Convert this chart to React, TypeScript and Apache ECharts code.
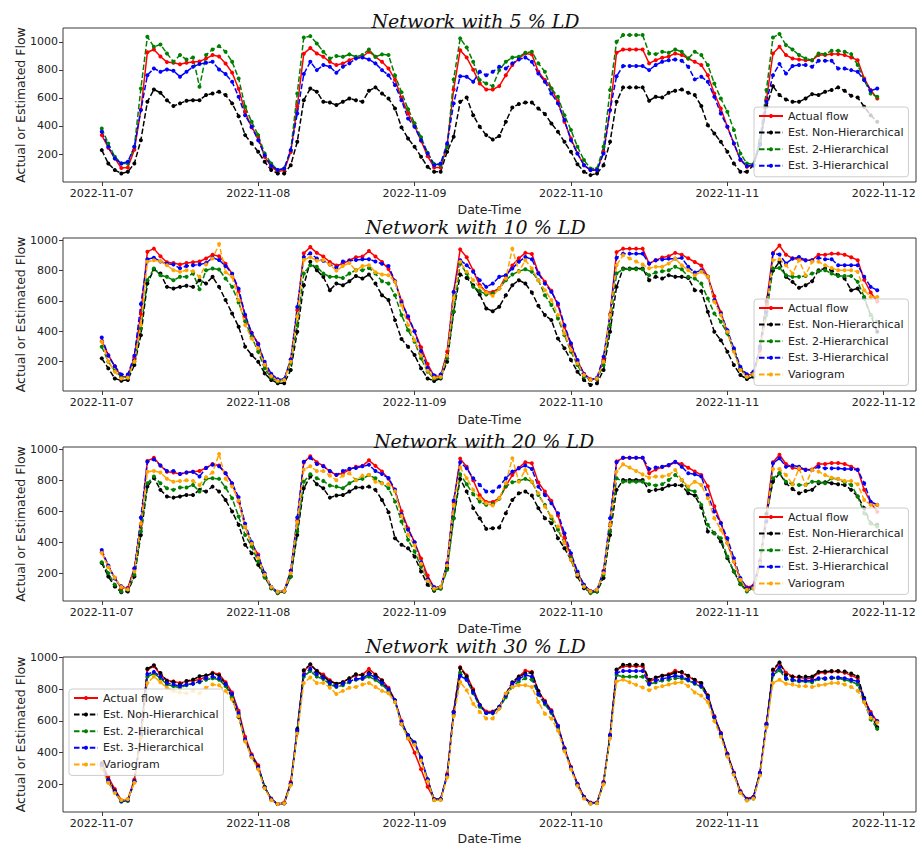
import React, { useEffect, useRef } from "react";
import * as echarts from "echarts";

// ---------- data ----------
const DATE_LABELS = ["2022-11-07", "2022-11-08", "2022-11-09", "2022-11-10", "2022-11-11", "2022-11-12"];
const DAY_TICKS = [0, 24, 48, 72, 96, 120]; // hours since 2022-11-07 00:00
const Y_TICKS = [200, 400, 600, 800, 1000];
const SERIES_NAMES = ["Actual flow", "Est. Non-Hierarchical", "Est. 2-Hierarchical", "Est. 3-Hierarchical", "Variogram"];
const PANEL_TITLES = ["Network with 5 % LD", "Network with 10 % LD", "Network with 20 % LD", "Network with 30 % LD"];

// hourly values, hour 0 = 2022-11-07 00:00
const ACTUAL_FLOW = [
  335, 245, 170, 100, 105, 230, 515, 925, 945, 895, 855, 850, 840, 850, 855, 860, 880, 905, 895, 845, 780, 665, 500, 390,
  320, 180, 110, 75, 85, 215, 540, 915, 955, 917, 893, 857, 834, 845, 869, 888, 893, 929, 893, 857, 810, 730, 600, 490,
  400, 295, 185, 105, 105, 265, 660, 940, 888, 800, 703, 660, 660, 684, 762, 834, 881, 917, 910, 786, 727, 667, 572, 430,
  311, 204, 121, 85, 85, 216, 513, 922, 945, 945, 945, 945, 846, 869, 886, 895, 917, 905, 881, 857, 834, 762, 632, 525,
  394, 275, 157, 109, 121, 275, 584, 917, 965, 905, 881, 874, 869, 869, 905, 905, 912, 912, 905, 888, 869, 739, 656, 596,
];

// ---- 5 % LD ----
const NON_HIER_5 = [
  228, 133, 86, 62, 74, 133, 299, 572, 660, 637, 584, 542, 561, 580, 584, 584, 620, 632, 644, 620, 561, 470, 335, 276,
  216, 145, 86, 62, 62, 121, 287, 584, 667, 644, 572, 567, 549, 572, 596, 584, 572, 651, 675, 632, 596, 525, 390, 311,
  252, 181, 109, 74, 74, 216, 323, 572, 603, 477, 394, 335, 304, 328, 430, 532, 556, 567, 567, 525, 485, 418, 359, 287,
  216, 128, 74, 50, 62, 121, 287, 572, 675, 675, 675, 675, 580, 608, 603, 637, 651, 660, 637, 620, 542, 406, 347, 287,
  216, 133, 74, 74, 121, 275, 537, 684, 620, 589, 572, 572, 596, 627, 620, 644, 656, 675, 651, 615, 603, 537, 477, 430,
];
const HIER2_5 = [
  382, 275, 181, 133, 133, 252, 667, 1035, 964, 981, 917, 857, 905, 874, 888, 679, 905, 945, 969, 929, 857, 739, 537, 430,
  335, 204, 133, 86, 97, 228, 632, 1031, 1040, 988, 929, 881, 898, 893, 910, 893, 905, 945, 893, 910, 905, 760, 640, 520,
  420, 320, 210, 130, 120, 250, 732, 1024, 960, 857, 727, 703, 684, 798, 857, 888, 893, 922, 929, 846, 786, 667, 608, 477,
  371, 252, 157, 97, 97, 252, 656, 1000, 1048, 1048, 1048, 1048, 917, 912, 929, 922, 945, 929, 881, 929, 905, 834, 703, 596,
  501, 371, 204, 133, 128, 299, 656, 1031, 1055, 976, 945, 905, 881, 869, 917, 912, 936, 936, 929, 912, 834, 727, 632, 608,
];
const HIER3_5 = [
  359, 252, 169, 133, 145, 252, 513, 762, 810, 786, 803, 793, 751, 786, 822, 841, 850, 857, 803, 770, 715, 608, 477, 394,
  299, 192, 116, 86, 97, 228, 489, 770, 857, 798, 834, 822, 779, 822, 846, 881, 888, 874, 846, 798, 762, 691, 584, 454,
  394, 299, 204, 121, 133, 276, 561, 755, 751, 715, 786, 762, 786, 822, 810, 846, 874, 888, 857, 774, 715, 632, 561, 442,
  299, 204, 121, 86, 86, 204, 513, 755, 827, 827, 827, 827, 798, 834, 857, 869, 874, 865, 822, 732, 751, 715, 608, 489,
  394, 276, 162, 114, 121, 264, 572, 762, 841, 774, 827, 834, 834, 822, 865, 865, 865, 810, 810, 798, 786, 727, 651, 667,
];

// ---- 10 % LD ----
const NON_HIER_10 = [
  222, 156, 90, 75, 80, 178, 375, 715, 809, 781, 693, 682, 693, 700, 693, 737, 715, 759, 693, 606, 518, 430, 299, 244,
  200, 123, 80, 58, 58, 145, 397, 704, 858, 803, 759, 671, 715, 704, 730, 765, 748, 774, 715, 638, 606, 474, 349, 299,
  244, 156, 90, 73, 90, 200, 529, 774, 752, 704, 643, 551, 533, 562, 638, 704, 737, 715, 656, 568, 507, 474, 353, 288,
  211, 134, 80, 47, 58, 145, 397, 693, 814, 814, 814, 814, 737, 759, 748, 770, 759, 759, 752, 671, 665, 529, 397, 342,
  266, 178, 112, 86, 101, 300, 600, 800, 858, 759, 726, 687, 704, 730, 803, 814, 803, 770, 748, 671, 682, 616, 507, 397,
];
const HIER2_10 = [
  299, 200, 139, 101, 95, 200, 419, 737, 814, 770, 759, 737, 759, 759, 781, 678, 803, 814, 807, 748, 693, 590, 467, 364,
  266, 156, 95, 69, 80, 189, 441, 781, 836, 825, 781, 759, 759, 752, 781, 803, 803, 818, 781, 730, 715, 638, 507, 408,
  332, 222, 134, 90, 95, 222, 529, 847, 781, 693, 665, 643, 649, 682, 737, 774, 796, 809, 792, 737, 638, 573, 485, 375,
  266, 178, 101, 80, 86, 178, 441, 781, 809, 809, 809, 809, 770, 787, 796, 803, 825, 809, 759, 748, 715, 616, 518, 463,
  386, 277, 152, 101, 112, 288, 507, 814, 818, 770, 759, 759, 765, 781, 796, 803, 781, 765, 765, 765, 726, 627, 507, 463,
];
const HIER3_10 = [
  360, 240, 170, 115, 115, 240, 580, 875, 885, 860, 845, 840, 815, 830, 835, 840, 850, 885, 870, 830, 780, 680, 510, 390,
  315, 200, 120, 85, 85, 215, 560, 890, 915, 880, 865, 840, 820, 860, 865, 870, 875, 875, 860, 845, 830, 730, 590, 500,
  400, 270, 160, 110, 115, 240, 660, 869, 836, 792, 737, 693, 715, 759, 770, 814, 858, 890, 875, 781, 715, 660, 584, 441,
  321, 211, 117, 80, 95, 233, 507, 884, 912, 912, 912, 912, 847, 869, 873, 879, 879, 884, 825, 787, 803, 759, 606, 518,
  408, 288, 167, 117, 134, 288, 529, 912, 906, 847, 879, 890, 869, 869, 884, 875, 875, 836, 836, 836, 836, 759, 693, 671,
];
const VARIOGRAM_10 = [
  332, 200, 134, 90, 95, 200, 441, 858, 869, 862, 836, 803, 792, 803, 796, 759, 840, 880, 975, 790, 760, 606, 441, 353,
  288, 180, 105, 75, 80, 200, 500, 870, 890, 865, 870, 840, 800, 830, 850, 800, 830, 835, 790, 775, 770, 726, 573, 441,
  342, 240, 140, 95, 100, 240, 620, 858, 792, 737, 693, 656, 634, 682, 748, 945, 792, 869, 814, 737, 671, 606, 507, 386,
  277, 189, 112, 80, 90, 200, 507, 836, 901, 880, 860, 840, 815, 825, 825, 847, 879, 836, 803, 770, 792, 759, 595, 507,
  397, 266, 145, 101, 117, 244, 550, 869, 875, 836, 781, 869, 770, 858, 858, 836, 818, 803, 803, 803, 792, 671, 627, 627,
];

// ---- 20 % LD ----
const NON_HIER_20 = [
  265, 178, 114, 77, 82, 178, 447, 759, 817, 738, 695, 688, 695, 705, 705, 738, 727, 759, 727, 673, 598, 512, 383, 329,
  254, 178, 103, 71, 82, 178, 447, 748, 824, 774, 748, 688, 701, 705, 727, 753, 753, 759, 738, 673, 594, 426, 383, 361,
  308, 211, 125, 86, 103, 232, 555, 809, 727, 620, 555, 486, 490, 495, 587, 673, 716, 727, 701, 620, 555, 523, 426, 361,
  286, 178, 103, 77, 82, 168, 447, 738, 802, 802, 802, 802, 731, 738, 744, 766, 770, 766, 716, 701, 624, 469, 458, 404,
  297, 211, 129, 93, 103, 260, 580, 791, 845, 781, 744, 716, 731, 738, 781, 787, 781, 774, 770, 738, 695, 620, 523, 512,
];
const HIER2_20 = [
  271, 200, 125, 82, 93, 189, 469, 781, 824, 781, 748, 738, 753, 753, 770, 727, 809, 813, 809, 753, 684, 566, 447, 372,
  275, 172, 103, 71, 82, 178, 469, 791, 839, 813, 796, 766, 759, 748, 781, 802, 809, 834, 813, 781, 748, 662, 533, 415,
  340, 243, 157, 93, 99, 222, 555, 839, 774, 710, 662, 641, 645, 680, 759, 787, 796, 809, 791, 705, 641, 555, 480, 394,
  297, 200, 114, 71, 82, 189, 469, 813, 791, 791, 791, 791, 774, 766, 774, 802, 834, 802, 738, 727, 641, 512, 458, 426,
  308, 211, 129, 82, 103, 254, 560, 813, 845, 791, 774, 770, 770, 791, 791, 781, 813, 809, 787, 770, 695, 587, 523, 501,
];
const HIER3_20 = [
  350, 250, 165, 115, 100, 230, 560, 920, 935, 895, 860, 860, 840, 850, 855, 825, 880, 900, 890, 845, 780, 690, 520, 400,
  310, 200, 110, 80, 85, 215, 560, 920, 945, 905, 890, 860, 835, 860, 875, 880, 890, 900, 860, 840, 815, 740, 580, 480,
  400, 270, 160, 110, 110, 260, 670, 916, 877, 813, 770, 727, 727, 759, 813, 856, 877, 895, 873, 759, 705, 652, 587, 458,
  329, 211, 125, 82, 93, 211, 555, 916, 946, 946, 946, 946, 873, 882, 888, 899, 920, 888, 845, 839, 824, 705, 598, 523,
  426, 297, 168, 103, 114, 275, 533, 910, 942, 888, 895, 888, 867, 867, 888, 877, 877, 877, 873, 873, 867, 781, 662, 641,
];
const VARIOGRAM_20 = [
  330, 240, 170, 110, 95, 210, 520, 855, 860, 850, 810, 790, 795, 800, 795, 770, 820, 850, 970, 810, 760, 670, 500, 390,
  300, 190, 110, 80, 85, 200, 530, 870, 890, 860, 860, 830, 800, 830, 845, 800, 830, 835, 790, 780, 775, 730, 570, 450,
  380, 260, 150, 100, 110, 250, 640, 882, 813, 738, 684, 652, 637, 684, 781, 942, 791, 867, 791, 716, 630, 566, 501, 394,
  286, 189, 114, 82, 93, 200, 512, 856, 903, 882, 860, 838, 817, 824, 824, 834, 867, 802, 759, 791, 770, 684, 555, 480,
  394, 275, 157, 93, 103, 264, 560, 873, 873, 834, 774, 877, 770, 867, 856, 834, 817, 809, 796, 796, 774, 673, 641, 641,
];

// ---- 30 % LD ----
const NON_HIER_30 = [
  330, 230, 160, 95, 100, 220, 520, 930, 952, 903, 853, 846, 832, 853, 861, 882, 888, 899, 888, 835, 741, 625, 480, 380,
  310, 185, 105, 75, 80, 205, 550, 920, 958, 915, 880, 850, 835, 845, 870, 895, 890, 905, 890, 855, 800, 730, 580, 510,
  460, 360, 230, 105, 105, 255, 655, 935, 880, 790, 700, 650, 655, 690, 770, 845, 880, 900, 905, 790, 720, 660, 565, 425,
  305, 200, 120, 80, 82, 210, 510, 925, 955, 955, 955, 955, 860, 875, 885, 890, 905, 910, 885, 860, 840, 760, 625, 520,
  390, 270, 150, 105, 118, 270, 580, 925, 970, 890, 880, 880, 880, 880, 910, 912, 915, 915, 912, 900, 880, 745, 640, 560,
];
const HIER2_30 = [
  310, 215, 150, 90, 95, 215, 505, 880, 900, 870, 830, 820, 810, 825, 835, 845, 860, 870, 860, 820, 755, 640, 480, 375,
  300, 180, 105, 75, 80, 200, 530, 880, 915, 880, 865, 830, 815, 825, 845, 860, 865, 880, 860, 830, 790, 720, 580, 500,
  455, 360, 225, 100, 105, 250, 640, 905, 860, 775, 690, 650, 648, 680, 750, 815, 850, 870, 860, 765, 705, 650, 560, 420,
  300, 195, 115, 78, 82, 205, 505, 890, 880, 880, 880, 880, 830, 845, 855, 860, 870, 870, 855, 835, 815, 750, 620, 515,
  385, 265, 150, 100, 110, 262, 570, 890, 920, 865, 855, 850, 850, 845, 865, 865, 870, 870, 860, 850, 830, 720, 610, 550,
];
const HIER3_30 = [
  320, 225, 155, 95, 100, 220, 510, 895, 910, 880, 840, 830, 820, 830, 835, 850, 870, 880, 870, 830, 770, 650, 485, 380,
  305, 180, 105, 75, 80, 205, 540, 890, 930, 895, 875, 840, 820, 835, 850, 865, 870, 895, 875, 840, 800, 730, 595, 510,
  465, 370, 232, 105, 108, 258, 655, 885, 860, 780, 700, 650, 652, 690, 760, 835, 865, 890, 880, 770, 715, 660, 568, 428,
  305, 200, 118, 82, 84, 212, 510, 905, 915, 915, 915, 915, 835, 855, 865, 875, 885, 880, 860, 840, 820, 750, 625, 520,
  390, 270, 155, 105, 118, 272, 580, 895, 940, 870, 860, 855, 855, 855, 870, 870, 875, 875, 870, 860, 850, 735, 645, 600,
];
const VARIOGRAM_30 = [
  300, 210, 145, 100, 105, 210, 495, 840, 880, 845, 810, 790, 780, 775, 790, 775, 810, 830, 825, 790, 735, 630, 470, 370,
  295, 175, 100, 75, 80, 195, 520, 840, 875, 840, 840, 810, 770, 790, 810, 815, 830, 840, 815, 790, 775, 720, 580, 490,
  450, 350, 220, 100, 100, 245, 630, 846, 794, 709, 657, 615, 615, 678, 773, 815, 825, 825, 815, 720, 646, 615, 540, 410,
  295, 190, 110, 78, 80, 200, 490, 850, 861, 845, 828, 811, 794, 810, 820, 830, 840, 845, 820, 780, 760, 720, 600, 500,
  375, 260, 145, 98, 110, 255, 560, 840, 860, 835, 830, 820, 820, 815, 825, 830, 840, 840, 830, 815, 790, 720, 620, 590,
];

const PANEL_SERIES = [
  [ACTUAL_FLOW, NON_HIER_5, HIER2_5, HIER3_5],
  [ACTUAL_FLOW, NON_HIER_10, HIER2_10, HIER3_10, VARIOGRAM_10],
  [ACTUAL_FLOW, NON_HIER_20, HIER2_20, HIER3_20, VARIOGRAM_20],
  [ACTUAL_FLOW, NON_HIER_30, HIER2_30, HIER3_30, VARIOGRAM_30],
];

// ---------- styling / layout ----------
const COLORS = ["#ff0000", "#000000", "#008000", "#0000ff", "#ffa500"];
const FONT = "DejaVu Sans";
const GRID_LEFT = 63;
const GRID_WIDTH = 853;
const LAYOUT = [
  { top: 28, height: 154, yMin: 1, yMax: 1098, legendLeft: 754, legendTop: 107, titleX: 475.5, titleY: 21, nameY: 209 },
  { top: 238, height: 153, yMin: 7, yMax: 1015, legendLeft: 754, legendTop: 299, titleX: 475.5, titleY: 226.5, nameY: 419 },
  { top: 447, height: 154, yMin: 20, yMax: 1015, legendLeft: 754, legendTop: 508, titleX: 484, titleY: 440.5, nameY: 628.5 },
  { top: 657, height: 155, yMin: 25, yMax: 1004, legendLeft: 69, legendTop: 689, titleX: 475.5, titleY: 646, nameY: 838 },
];

function buildOption() {
  const grid = LAYOUT.map((l) => ({
    left: GRID_LEFT,
    top: l.top,
    width: GRID_WIDTH,
    height: l.height,
    show: true,
    borderColor: "#3a3a3a",
    borderWidth: 1,
    backgroundColor: "#ffffff",
    containLabel: false,
    outerBoundsMode: "none",
  }));

  const xAxis = LAYOUT.map((l, i) => ({
    type: "value",
    gridIndex: i,
    min: -5.95,
    max: 124.95,
    axisLine: { show: false, onZero: false },
    splitLine: { show: false },
    axisTick: { show: true, customValues: DAY_TICKS, length: 4, lineStyle: { color: "#3a3a3a", width: 1 } },
    axisLabel: {
      show: true,
      customValues: DAY_TICKS,
      formatter: (v: number) => DATE_LABELS[Math.round(v / 24)],
      fontFamily: FONT,
      fontSize: 11,
      color: "#222",
      margin: 6,
    },
  }));

  const yAxis = LAYOUT.map((l, i) => ({
    type: "value",
    gridIndex: i,
    min: l.yMin,
    max: l.yMax,
    axisLine: { show: false, onZero: false },
    splitLine: { show: false },
    axisTick: { show: true, customValues: Y_TICKS, length: 4, lineStyle: { color: "#3a3a3a", width: 1 } },
    axisLabel: {
      show: true,
      customValues: Y_TICKS,
      formatter: (v: number) => String(Math.round(v)),
      fontFamily: FONT,
      fontSize: 11,
      color: "#222",
      margin: 5,
    },
  }));

  const series: any[] = [];
  PANEL_SERIES.forEach((list, p) => {
    list.forEach((values, j) => {
      series.push({
        type: "line",
        name: SERIES_NAMES[j],
        xAxisIndex: p,
        yAxisIndex: p,
        data: values.map((v, h) => [h, v]),
        symbol: "circle",
        symbolSize: 4,
        showSymbol: true,
        showAllSymbol: true,
        lineStyle: { color: COLORS[j], width: 1.5, type: j === 0 ? "solid" : [5.5, 2.4] },
        itemStyle: { color: COLORS[j] },
        emphasis: { disabled: true },
        z: 2,
      });
    });
  });

  const legend = LAYOUT.map((l, p) => ({
    data: SERIES_NAMES.slice(0, PANEL_SERIES[p].length),
    orient: "vertical",
    left: l.legendLeft,
    top: l.legendTop,
    padding: [2, 5, 4, 4],
    itemGap: 2.6,
    itemWidth: 24,
    itemHeight: 5,
    backgroundColor: "rgba(255,255,255,0.8)",
    borderColor: "#cccccc",
    borderWidth: 1,
    borderRadius: 3,
    selectedMode: false,
    textStyle: { fontFamily: FONT, fontSize: 11, color: "#222", lineHeight: 14 },
    z: 10,
  }));

  const graphic: any[] = [];
  LAYOUT.forEach((l, p) => {
    graphic.push({
      type: "text",
      x: l.titleX,
      y: l.titleY,
      silent: true,
      style: {
        text: PANEL_TITLES[p],
        font: 'italic 19px "DejaVu Serif"',
        fill: "#111",
        align: "center",
        verticalAlign: "middle",
      },
    });
    graphic.push({
      type: "text",
      x: GRID_LEFT + GRID_WIDTH / 2,
      y: l.nameY,
      silent: true,
      style: {
        text: "Date-Time",
        font: '12.5px "DejaVu Sans"',
        fill: "#222",
        align: "center",
        verticalAlign: "middle",
      },
    });
    graphic.push({
      type: "text",
      x: 20,
      y: l.top + l.height / 2,
      rotation: Math.PI / 2,
      silent: true,
      style: {
        text: "Actual or Estimated Flow",
        font: '12.5px "DejaVu Sans"',
        fill: "#222",
        align: "center",
        verticalAlign: "middle",
      },
    });
  });

  return {
    animation: false,
    backgroundColor: "#ffffff",
    grid,
    xAxis,
    yAxis,
    legend,
    series,
    graphic,
  };
}

export default function App() {
  const ref = useRef<HTMLDivElement | null>(null);
  useEffect(() => {
    if (!ref.current) return;
    const chart = echarts.init(ref.current, undefined, { renderer: "svg" });
    chart.setOption(buildOption() as any);
    return () => chart.dispose();
  }, []);
  return (
    <div
      ref={ref}
      style={{ position: "absolute", left: 0, top: 0, width: 920, height: 846, background: "#fff" }}
    />
  );
}
